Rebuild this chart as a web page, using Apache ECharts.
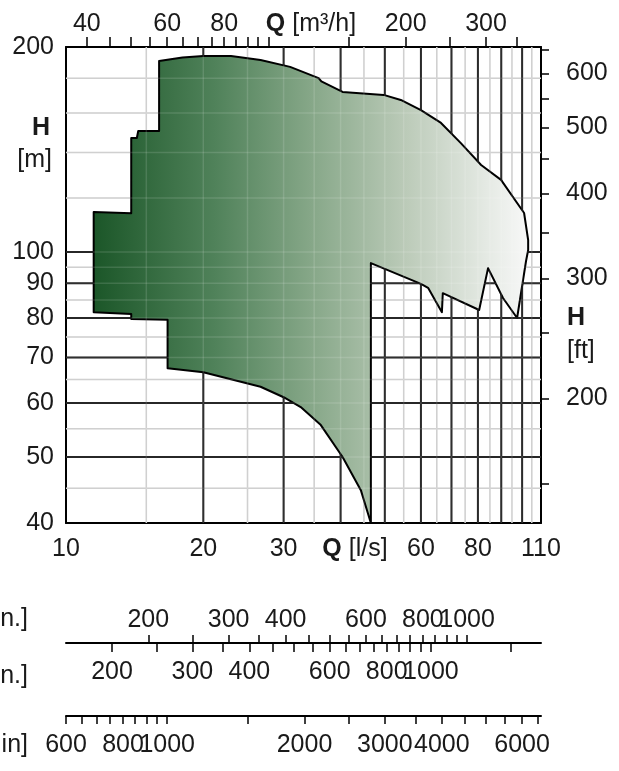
<!DOCTYPE html>
<html><head><meta charset="utf-8">
<script src="https://cdn.jsdelivr.net/npm/echarts@6/dist/echarts.min.js"></script>
<style>html,body{margin:0;padding:0;background:#fff}#c{width:619px;height:771px}</style>
</head><body><div id="c"></div>
<script>
// ---------------- data ----------------
const qRangeLs = [10, 110];
const hRangeM = [40, 200];
const qLabelsLs = [10, 20, 30, 43, 60, 80, 110];   // 43 = position of axis title
const qTitlePosLs = 43;
const hLabelsM = [40, 50, 60, 70, 80, 90, 100, 200];
const qMajorGrid = [20, 30, 40, 50, 60, 70, 80, 90, 100];
const qMinorGrid = [15, 25, 35, 45, 55, 65, 75, 85, 95, 105];
const hMajorGrid = [50, 60, 70, 80, 90, 100];
const hMinorGrid = [45, 55, 65, 75, 85, 95, 120, 140, 160, 180];

const m3hFactor = 3.6;
const m3hTicks = [40, 45, 50, 55, 60, 65, 70, 75, 80, 85, 90, 95, 100, 150, 200, 250, 300, 350];
const m3hLabels = [40, 60, 80, 124, 200, 300];   // 124 = position of axis title
const m3hTitlePos = 124;

const ftFactor = 3.2808;
const ftTicks = [150, 200, 250, 300, 350, 400, 450, 500, 550, 600, 650];
const ftLabels = [200, 300, 400, 500, 600];

const impFactor = 13.2;
const impTicks = [200, 250, 300, 350, 400, 450, 500, 550, 600, 650, 700, 750, 800, 850, 900, 950, 1000];
const impLabels = [200, 300, 400, 600, 800, 1000];

const usFactor = 15.85;
const usTicks = [200, 250, 300, 350, 400, 450, 500, 550, 600, 650, 700, 750, 800, 850, 900, 950, 1000, 1500];
const usLabels = [200, 300, 400, 600, 800, 1000];

const lminFactor = 60;
const lminTicks = [600, 650, 700, 750, 800, 850, 900, 950, 1000, 1500, 2000, 2500, 3000, 3500, 4000, 4500, 5000, 5500, 6000, 6500];
const lminLabels = [600, 800, 1000, 2000, 3000, 4000, 6000];

// envelope outline (Q [l/s], H [m])
const envelopeQ = [11.5, 13.9, 13.9, 14.3, 14.4, 16.0, 16.0, 18.0, 20.0, 23.0, 26.7, 31.0, 35.8, 36.3, 40.4, 49.7, 54.2, 60.0, 66.4, 73.4, 81.3, 89.9, 101.0, 103.1, 103.1, 102.0, 97.5, 90.8, 84.2, 80.5, 67.0, 66.7, 62.2, 60.0, 46.6, 46.6, 44.3, 40.4, 36.2, 32.7, 30.0, 26.7, 20.0, 16.7, 16.7, 13.9, 13.9, 11.5];
const envelopeH = [114.5, 114.0, 147.0, 147.0, 150.6, 150.6, 190.8, 193.0, 194.0, 194.0, 191.4, 187.0, 180.0, 178.0, 171.8, 170.1, 167.2, 161.6, 154.7, 144.5, 134.2, 127.6, 114.1, 104.1, 100.7, 97.0, 80.0, 85.6, 94.7, 82.2, 87.0, 81.6, 88.6, 89.8, 96.3, 40.0, 44.7, 50.0, 55.7, 59.2, 61.2, 63.4, 66.6, 67.5, 79.5, 79.7, 81.1, 81.6];

// ---------------- chart ----------------
const FONT = '"Liberation Sans", Arial, sans-serif';
const FS = 25;
const TXT = '#1a1a1a';
const chart = echarts.init(document.getElementById('c'), null, {renderer: 'canvas'});

const near = (a, b) => Math.abs(a - b) < 0.5;
const lbl = (extra) => Object.assign({fontSize: FS, fontFamily: FONT, color: TXT, hideOverlap: false}, extra);
const rich = {b: {fontWeight: 'bold', fontSize: FS, fontFamily: FONT, color: TXT}, n: {fontSize: FS, fontFamily: FONT, color: TXT}};
// ECharts drops the max label (or its neighbour) when the two last labels touch;
// listing the second-last value first keeps both of the touching labels.
const keepTouching = a => [a[a.length - 2]].concat(a.slice(0, -2), a.slice(-1));

function gridSeries(values, vertical, color, width, z) {
  return {
    type: 'custom', xAxisIndex: 0, yAxisIndex: 0, z: z, silent: true, animation: false,
    data: values.map(v => vertical ? [v, hRangeM[0]] : [qRangeLs[0], v]),
    renderItem: function (p, api) {
      const v = api.value(vertical ? 0 : 1);
      const a = vertical ? api.coord([v, hRangeM[0]]) : api.coord([qRangeLs[0], v]);
      const b = vertical ? api.coord([v, hRangeM[1]]) : api.coord([qRangeLs[1], v]);
      return {type: 'line', shape: {x1: a[0], y1: a[1], x2: b[0], y2: b[1]}, style: {stroke: color, lineWidth: width}};
    }
  };
}

const hiddenY = (gi) => ({type: 'value', gridIndex: gi, show: false, min: 0, max: 1});
const noSplit = {show: false};

const option = {
  animation: false,
  backgroundColor: '#fff',
  grid: [
    {left: 66, top: 47, width: 475, height: 476},
    {left: 66, top: 642, width: 475, height: 1},
    {left: 66, top: 715, width: 475, height: 1}
  ],
  xAxis: [
    { // Q l/s bottom
      type: 'log', logBase: 10, gridIndex: 0, position: 'bottom',
      min: qRangeLs[0], max: qRangeLs[1],
      axisLine: {show: true, lineStyle: {color: '#000', width: 2}},
      axisTick: {show: false}, splitLine: noSplit, minorSplitLine: noSplit,
      axisLabel: lbl({customValues: qLabelsLs, margin: 14, rich: rich,
        formatter: v => near(v, qTitlePosLs) ? '{b|Q} {n|[l/s]}' : String(Math.round(v))})
    },
    { // Q m3/h top
      type: 'log', logBase: 10, gridIndex: 0, position: 'top',
      min: qRangeLs[0] * m3hFactor, max: qRangeLs[1] * m3hFactor,
      axisLine: {show: true, lineStyle: {color: '#000', width: 2}},
      axisTick: {show: true, customValues: m3hTicks, length: 10, lineStyle: {color: '#000', width: 1.5}},
      splitLine: noSplit,
      axisLabel: lbl({customValues: m3hLabels, margin: 10, rich: rich,
        formatter: v => near(v, m3hTitlePos) ? '{b|Q} {n|[m³/h]}' : String(Math.round(v))})
    },
    { // Imp gpm (above line)
      type: 'log', logBase: 10, gridIndex: 1, position: 'top',
      min: qRangeLs[0] * impFactor, max: qRangeLs[1] * impFactor,
      axisLine: {show: true, lineStyle: {color: '#000', width: 2}},
      axisTick: {show: true, customValues: impTicks, length: 8, lineStyle: {color: '#000', width: 1.5}},
      splitLine: noSplit,
      axisLabel: lbl({customValues: keepTouching(impLabels), margin: 9, formatter: v => String(Math.round(v))})
    },
    { // US gpm (below line)
      type: 'log', logBase: 10, gridIndex: 1, position: 'bottom',
      min: qRangeLs[0] * usFactor, max: qRangeLs[1] * usFactor,
      axisLine: {show: false},
      axisTick: {show: true, customValues: usTicks, length: 9, lineStyle: {color: '#000', width: 1.5}},
      splitLine: noSplit,
      axisLabel: lbl({customValues: keepTouching(usLabels), margin: 17, formatter: v => String(Math.round(v))})
    },
    { // l/min
      type: 'log', logBase: 10, gridIndex: 2, position: 'bottom',
      min: qRangeLs[0] * lminFactor, max: qRangeLs[1] * lminFactor,
      axisLine: {show: true, lineStyle: {color: '#000', width: 2}},
      axisTick: {show: true, customValues: lminTicks, length: 8, lineStyle: {color: '#000', width: 1.5}},
      splitLine: noSplit,
      axisLabel: lbl({customValues: lminLabels, margin: 17, formatter: v => String(Math.round(v))})
    }
  ],
  yAxis: [
    { // H m left
      type: 'log', logBase: 10, gridIndex: 0, position: 'left',
      min: hRangeM[0], max: hRangeM[1],
      axisLine: {show: true, lineStyle: {color: '#000', width: 2}},
      axisTick: {show: false}, splitLine: noSplit,
      axisLabel: lbl({customValues: hLabelsM, margin: 12, formatter: v => String(Math.round(v))})
    },
    { // H ft right
      type: 'log', logBase: 10, gridIndex: 0, position: 'right',
      min: hRangeM[0] * ftFactor, max: hRangeM[1] * ftFactor,
      axisLine: {show: true, lineStyle: {color: '#000', width: 2}},
      axisTick: {show: true, customValues: ftTicks, length: 8, lineStyle: {color: '#000', width: 1.5}},
      splitLine: noSplit,
      axisLabel: lbl({customValues: ftLabels, margin: 25, formatter: v => String(Math.round(v))})
    },
    hiddenY(1), hiddenY(2)
  ],
  graphic: [
    {type: 'text', x: 50, y: 128, style: {text: 'H', font: 'bold ' + FS + 'px ' + FONT, fill: TXT, align: 'right', verticalAlign: 'middle'}},
    {type: 'text', x: 52, y: 160, style: {text: '[m]', font: FS + 'px ' + FONT, fill: TXT, align: 'right', verticalAlign: 'middle'}},
    {type: 'text', x: 567, y: 318, style: {text: 'H', font: 'bold ' + FS + 'px ' + FONT, fill: TXT, align: 'left', verticalAlign: 'middle'}},
    {type: 'text', x: 567, y: 351, style: {text: '[ft]', font: FS + 'px ' + FONT, fill: TXT, align: 'left', verticalAlign: 'middle'}},
    {type: 'text', x: 28, y: 619, style: {text: '[Imp. gal/min.]', font: FS + 'px ' + FONT, fill: TXT, align: 'right', verticalAlign: 'middle'}},
    {type: 'text', x: 28, y: 676, style: {text: '[US gal/min.]', font: FS + 'px ' + FONT, fill: TXT, align: 'right', verticalAlign: 'middle'}},
    {type: 'text', x: 28, y: 745, style: {text: '[l/min]', font: FS + 'px ' + FONT, fill: TXT, align: 'right', verticalAlign: 'middle'}}
  ],
  series: [
    gridSeries(qMinorGrid, true, '#c9c9c9', 1.5, 1),
    gridSeries(hMinorGrid, false, '#c9c9c9', 1.5, 1),
    gridSeries(qMajorGrid, true, '#111', 2, 2),
    gridSeries(hMajorGrid, false, '#111', 2, 2),
    {
      type: 'custom', xAxisIndex: 0, yAxisIndex: 0, z: 5, silent: true, animation: false,
      data: envelopeQ.map((q, i) => [q, envelopeH[i]]),
      renderItem: function (p, api) {
        if (p.dataIndex !== 0) return null;
        const pts = envelopeQ.map((q, i) => api.coord([q, envelopeH[i]]));
        return {
          type: 'polygon', shape: {points: pts},
          style: {
            fill: new echarts.graphic.LinearGradient(0, 0, 1, 0, [
              {offset: 0, color: '#1b5628'},
              {offset: 0.28, color: '#50825a'},
              {offset: 0.5, color: '#86a788'},
              {offset: 0.72, color: '#bccbb9'},
              {offset: 0.9, color: '#e4e9e3'},
              {offset: 1, color: '#f8f8f8'}
            ]),
            stroke: '#000', lineWidth: 2, lineJoin: 'round'
          }
        };
      }
    },
    gridSeries(qMinorGrid.concat(qMajorGrid), true, 'rgba(255,255,255,0.13)', 1.5, 6),
    gridSeries(hMinorGrid.concat(hMajorGrid), false, 'rgba(255,255,255,0.13)', 1.5, 6)
  ]
};
chart.setOption(option);
</script>
</body></html>
